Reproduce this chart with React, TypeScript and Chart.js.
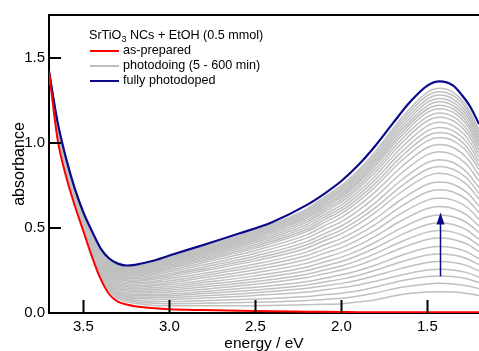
import React, { useEffect, useRef } from 'react';
import { Chart, registerables } from 'chart.js';

Chart.register(...registerables);

// ---------- data ----------
const energyFine = [3.7, 3.65, 3.6, 3.55, 3.5, 3.45, 3.4, 3.35, 3.3, 3.25, 3.2, 3.1, 3.0, 2.8, 2.6, 2.4, 2.2, 2.1, 2.0, 1.9, 1.8, 1.7, 1.6, 1.5, 1.43, 1.35, 1.3, 1.25, 1.2];
const asPrepared = [1.42, 1.02, 0.80, 0.63, 0.48, 0.33, 0.20, 0.11, 0.067, 0.05, 0.04, 0.029, 0.022, 0.017, 0.013, 0.010, 0.008, 0.007, 0.006, 0.005, 0.005, 0.004, 0.004, 0.004, 0.004, 0.004, 0.004, 0.004, 0.004];
const fullyPhotodoped = [1.42, 1.12, 0.905, 0.73, 0.59, 0.48, 0.38, 0.32, 0.29, 0.279, 0.283, 0.305, 0.338, 0.40, 0.465, 0.535, 0.635, 0.70, 0.775, 0.87, 0.985, 1.115, 1.24, 1.335, 1.36, 1.335, 1.28, 1.21, 1.11];

const energyGray = [3.7, 3.65, 3.6, 3.5, 3.45, 3.4, 3.35, 3.3, 3.2, 3.0, 2.8, 2.5, 2.2, 2.1, 2.0, 1.9, 1.8, 1.65, 1.5, 1.43, 1.35, 1.27, 1.2];
const photodoping: number[][] = [
  [1.42, 1.029, 0.809, 0.490, 0.343, 0.216, 0.129, 0.085, 0.057, 0.042, 0.042, 0.043, 0.048, 0.051, 0.055, 0.065, 0.078, 0.109, 0.123, 0.125, 0.123, 0.115, 0.103],
  [1.42, 1.033, 0.813, 0.494, 0.349, 0.223, 0.136, 0.094, 0.067, 0.055, 0.057, 0.063, 0.074, 0.080, 0.086, 0.100, 0.118, 0.151, 0.171, 0.174, 0.171, 0.160, 0.143],
  [1.42, 1.036, 0.817, 0.497, 0.354, 0.228, 0.143, 0.102, 0.076, 0.067, 0.072, 0.082, 0.097, 0.107, 0.116, 0.131, 0.153, 0.190, 0.214, 0.218, 0.214, 0.201, 0.179],
  [1.42, 1.039, 0.820, 0.501, 0.358, 0.234, 0.149, 0.109, 0.085, 0.081, 0.088, 0.103, 0.124, 0.136, 0.149, 0.165, 0.187, 0.223, 0.252, 0.257, 0.252, 0.237, 0.210],
  [1.42, 1.042, 0.823, 0.504, 0.363, 0.240, 0.156, 0.116, 0.093, 0.092, 0.101, 0.119, 0.145, 0.159, 0.174, 0.194, 0.220, 0.262, 0.297, 0.302, 0.297, 0.278, 0.247],
  [1.42, 1.045, 0.827, 0.508, 0.368, 0.246, 0.163, 0.123, 0.101, 0.102, 0.114, 0.135, 0.165, 0.182, 0.199, 0.222, 0.252, 0.301, 0.341, 0.347, 0.341, 0.319, 0.284],
  [1.42, 1.048, 0.830, 0.511, 0.373, 0.251, 0.170, 0.130, 0.109, 0.112, 0.126, 0.151, 0.185, 0.204, 0.224, 0.250, 0.282, 0.339, 0.383, 0.390, 0.383, 0.359, 0.319],
  [1.42, 1.052, 0.834, 0.515, 0.378, 0.258, 0.178, 0.139, 0.118, 0.124, 0.140, 0.169, 0.208, 0.230, 0.252, 0.281, 0.319, 0.382, 0.432, 0.440, 0.432, 0.405, 0.360],
  [1.42, 1.055, 0.837, 0.519, 0.383, 0.264, 0.184, 0.146, 0.126, 0.134, 0.153, 0.185, 0.228, 0.252, 0.276, 0.309, 0.350, 0.420, 0.475, 0.484, 0.475, 0.445, 0.396],
  [1.42, 1.059, 0.841, 0.523, 0.388, 0.270, 0.191, 0.153, 0.134, 0.145, 0.166, 0.201, 0.249, 0.276, 0.302, 0.339, 0.383, 0.460, 0.520, 0.530, 0.520, 0.487, 0.433],
  [1.42, 1.062, 0.844, 0.526, 0.393, 0.276, 0.199, 0.161, 0.143, 0.155, 0.179, 0.218, 0.270, 0.299, 0.328, 0.368, 0.417, 0.500, 0.565, 0.576, 0.565, 0.530, 0.471],
  [1.42, 1.066, 0.848, 0.530, 0.399, 0.282, 0.206, 0.169, 0.151, 0.167, 0.192, 0.236, 0.293, 0.324, 0.356, 0.399, 0.452, 0.543, 0.614, 0.625, 0.614, 0.575, 0.511],
  [1.42, 1.070, 0.852, 0.534, 0.404, 0.289, 0.214, 0.177, 0.160, 0.178, 0.207, 0.254, 0.316, 0.350, 0.384, 0.431, 0.487, 0.586, 0.663, 0.675, 0.663, 0.621, 0.551],
  [1.42, 1.073, 0.856, 0.538, 0.410, 0.296, 0.222, 0.185, 0.169, 0.190, 0.220, 0.271, 0.338, 0.375, 0.412, 0.462, 0.522, 0.628, 0.711, 0.724, 0.711, 0.666, 0.591],
  [1.42, 1.077, 0.859, 0.542, 0.415, 0.302, 0.229, 0.193, 0.177, 0.201, 0.233, 0.288, 0.359, 0.399, 0.438, 0.491, 0.556, 0.668, 0.756, 0.770, 0.756, 0.708, 0.629],
  [1.42, 1.080, 0.863, 0.546, 0.420, 0.308, 0.236, 0.201, 0.186, 0.212, 0.248, 0.306, 0.382, 0.424, 0.466, 0.523, 0.592, 0.712, 0.805, 0.820, 0.805, 0.754, 0.670],
  [1.42, 1.083, 0.866, 0.549, 0.425, 0.314, 0.243, 0.208, 0.193, 0.222, 0.259, 0.320, 0.401, 0.445, 0.488, 0.548, 0.620, 0.746, 0.844, 0.860, 0.844, 0.791, 0.702],
  [1.42, 1.086, 0.869, 0.553, 0.429, 0.319, 0.249, 0.214, 0.201, 0.231, 0.270, 0.335, 0.419, 0.465, 0.511, 0.573, 0.650, 0.781, 0.884, 0.900, 0.884, 0.827, 0.735],
  [1.42, 1.090, 0.873, 0.557, 0.434, 0.325, 0.256, 0.222, 0.209, 0.242, 0.283, 0.351, 0.441, 0.489, 0.537, 0.603, 0.683, 0.822, 0.930, 0.947, 0.930, 0.871, 0.773],
  [1.42, 1.093, 0.876, 0.560, 0.439, 0.331, 0.263, 0.229, 0.217, 0.252, 0.296, 0.367, 0.460, 0.511, 0.562, 0.630, 0.714, 0.859, 0.972, 0.990, 0.972, 0.910, 0.808],
  [1.42, 1.096, 0.879, 0.563, 0.444, 0.336, 0.269, 0.236, 0.224, 0.261, 0.307, 0.381, 0.479, 0.531, 0.584, 0.656, 0.743, 0.894, 1.011, 1.030, 1.011, 0.947, 0.841],
  [1.42, 1.098, 0.882, 0.566, 0.447, 0.340, 0.274, 0.241, 0.229, 0.268, 0.315, 0.392, 0.492, 0.547, 0.601, 0.675, 0.764, 0.920, 1.041, 1.060, 1.041, 0.974, 0.865],
  [1.42, 1.100, 0.884, 0.568, 0.450, 0.344, 0.278, 0.246, 0.235, 0.275, 0.324, 0.403, 0.506, 0.562, 0.618, 0.694, 0.786, 0.946, 1.070, 1.090, 1.070, 1.002, 0.890],
  [1.42, 1.102, 0.886, 0.571, 0.454, 0.348, 0.283, 0.251, 0.240, 0.282, 0.332, 0.414, 0.520, 0.577, 0.635, 0.713, 0.808, 0.972, 1.099, 1.120, 1.099, 1.030, 0.914],
  [1.42, 1.105, 0.889, 0.573, 0.457, 0.352, 0.288, 0.256, 0.245, 0.289, 0.341, 0.424, 0.534, 0.593, 0.652, 0.732, 0.829, 0.998, 1.129, 1.150, 1.129, 1.057, 0.939],
  [1.42, 1.106, 0.891, 0.575, 0.460, 0.355, 0.291, 0.260, 0.250, 0.295, 0.348, 0.433, 0.545, 0.606, 0.666, 0.748, 0.847, 1.020, 1.153, 1.175, 1.153, 1.080, 0.959],
  [1.42, 1.108, 0.893, 0.577, 0.462, 0.359, 0.295, 0.264, 0.254, 0.301, 0.355, 0.442, 0.557, 0.618, 0.680, 0.764, 0.865, 1.041, 1.178, 1.200, 1.178, 1.103, 0.980],
  [1.42, 1.110, 0.894, 0.579, 0.465, 0.361, 0.298, 0.267, 0.258, 0.305, 0.361, 0.450, 0.566, 0.629, 0.691, 0.776, 0.879, 1.059, 1.198, 1.220, 1.198, 1.121, 0.996],
  [1.42, 1.111, 0.896, 0.580, 0.467, 0.364, 0.301, 0.270, 0.262, 0.310, 0.366, 0.457, 0.575, 0.639, 0.702, 0.789, 0.894, 1.076, 1.217, 1.240, 1.217, 1.140, 1.012],
  [1.42, 1.113, 0.897, 0.582, 0.469, 0.367, 0.305, 0.274, 0.265, 0.315, 0.372, 0.464, 0.584, 0.649, 0.714, 0.802, 0.908, 1.093, 1.237, 1.260, 1.237, 1.158, 1.029],
  [1.42, 1.114, 0.899, 0.584, 0.471, 0.369, 0.308, 0.277, 0.269, 0.319, 0.377, 0.471, 0.593, 0.659, 0.725, 0.814, 0.922, 1.111, 1.256, 1.280, 1.256, 1.176, 1.045],
  [1.42, 1.116, 0.900, 0.585, 0.473, 0.372, 0.311, 0.280, 0.272, 0.324, 0.383, 0.478, 0.603, 0.669, 0.736, 0.827, 0.937, 1.128, 1.276, 1.300, 1.276, 1.195, 1.061],
  [1.42, 1.117, 0.902, 0.587, 0.476, 0.375, 0.314, 0.283, 0.276, 0.329, 0.389, 0.486, 0.612, 0.680, 0.748, 0.840, 0.952, 1.145, 1.296, 1.320, 1.296, 1.213, 1.077],
];

const xTicks = [3.5, 3.0, 2.5, 2.0, 1.5];
const yTicks = [0, 0.5, 1.0, 1.5];
const xRange = [1.2, 3.7];
const yRange = [0, 1.75];

const legendTitleMain = 'SrTiO';
const legendTitleSub = '3';
const legendTitleRest = ' NCs + EtOH (0.5 mmol)';
const legendLabels = ['as-prepared', 'photodoing (5 - 600 min)', 'fully photodoped'];

const arrowEnergy = 1.425;
const arrowFrom = 0.215;
const arrowTo = 0.59;

// ---------- styles ----------
const RED = '#ff0000';
const NAVY = '#0a0a8a';
const GRAY = '#c0c0c0';
const FONT = "'Liberation Sans', Arial, Helvetica, sans-serif";
const W = 479;
const H = 351;

const overlayPlugin = {
  id: 'overlay',
  afterDatasetsDraw(chart: any) {
    const { ctx, chartArea: a, scales } = chart;
    const x = scales.x;
    const y = scales.y;
    ctx.save();
    // top frame line + inward ticks
    ctx.strokeStyle = '#000';
    ctx.lineWidth = 2;
    ctx.beginPath();
    ctx.moveTo(a.left - 1, a.top);
    ctx.lineTo(a.right, a.top);
    ctx.stroke();
    ctx.beginPath();
    yTicks.forEach((v) => {
      const py = Math.round(y.getPixelForValue(v));
      ctx.moveTo(a.left, py);
      ctx.lineTo(a.left + 12, py);
    });
    xTicks.forEach((v) => {
      const px = Math.round(x.getPixelForValue(v)) + 0.5;
      ctx.moveTo(px, a.bottom);
      ctx.lineTo(px, a.bottom - 13);
    });
    ctx.stroke();

    // arrow
    const ax = Math.round(x.getPixelForValue(arrowEnergy)) + 0.5;
    const y0 = y.getPixelForValue(arrowFrom);
    const y1 = y.getPixelForValue(arrowTo);
    ctx.strokeStyle = NAVY;
    ctx.fillStyle = NAVY;
    ctx.lineWidth = 1.5;
    ctx.beginPath();
    ctx.moveTo(ax, y0);
    ctx.lineTo(ax, y1 + 10);
    ctx.stroke();
    ctx.beginPath();
    ctx.moveTo(ax, y1);
    ctx.lineTo(ax - 4, y1 + 12);
    ctx.lineTo(ax + 4, y1 + 12);
    ctx.closePath();
    ctx.fill();

    // legend
    const lx = a.left + 40;
    ctx.textBaseline = 'middle';
    ctx.fillStyle = '#000';
    ctx.font = `12.6px ${FONT}`;
    let tx = lx;
    const ty = 36;
    ctx.fillText(legendTitleMain, tx, ty);
    tx += ctx.measureText(legendTitleMain).width;
    ctx.font = `9px ${FONT}`;
    ctx.fillText(legendTitleSub, tx, ty + 4);
    tx += ctx.measureText(legendTitleSub).width;
    ctx.font = `12.6px ${FONT}`;
    ctx.fillText(legendTitleRest, tx, ty);

    const colors = [RED, GRAY, NAVY];
    legendLabels.forEach((lab, i) => {
      const ry = 51 + i * 15;
      ctx.strokeStyle = colors[i];
      ctx.lineWidth = 2;
      ctx.beginPath();
      ctx.moveTo(lx + 1, ry);
      ctx.lineTo(lx + 30, ry);
      ctx.stroke();
      ctx.fillStyle = '#000';
      ctx.fillText(lab, lx + 34, ry);
    });
    ctx.restore();
  },
};

export default function App() {
  const ref = useRef<HTMLCanvasElement | null>(null);

  useEffect(() => {
    document.body.style.margin = '0';
    document.documentElement.style.overflow = 'hidden';
    const canvas = ref.current;
    if (!canvas) return;

    const grayDatasets = photodoping.map((row, k) => ({
      label: k === 0 ? legendLabels[1] : `photodoping ${k + 1}`,
      data: energyGray.map((e, i) => ({ x: e, y: row[i] })),
      borderColor: GRAY,
      borderWidth: 1.5,
      pointRadius: 0,
      fill: false,
      cubicInterpolationMode: 'monotone' as const,
    }));

    const chart = new Chart(canvas, {
      type: 'line',
      data: {
        datasets: [
          {
            label: legendLabels[0],
            data: energyFine.map((e, i) => ({ x: e, y: asPrepared[i] })),
            borderColor: RED,
            borderWidth: 2,
            pointRadius: 0,
            fill: false,
            cubicInterpolationMode: 'monotone',
          },
          {
            label: legendLabels[2],
            data: energyFine.map((e, i) => ({ x: e, y: fullyPhotodoped[i] })),
            borderColor: NAVY,
            borderWidth: 2.2,
            pointRadius: 0,
            fill: false,
            cubicInterpolationMode: 'monotone',
          },
          ...grayDatasets,
        ],
      },
      options: {
        animation: false,
        responsive: false,
        maintainAspectRatio: false,
        layout: { padding: { top: 15, right: 0, left: 0, bottom: 0 } },
        plugins: { legend: { display: false }, tooltip: { enabled: false } },
        elements: { point: { radius: 0 } },
        scales: {
          x: {
            type: 'linear',
            reverse: true,
            min: xRange[0],
            max: xRange[1],
            afterBuildTicks: (s: any) => {
              s.ticks = xTicks.map((v) => ({ value: v }));
            },
            afterFit: (s: any) => {
              s.height = 38;
            },
            grid: { display: false, drawTicks: false },
            border: { display: true, color: '#000', width: 2 },
            ticks: {
              color: '#000',
              font: { family: FONT, size: 15 },
              padding: 5,
              autoSkip: false,
              maxRotation: 0,
              callback: (v: any) => Number(v).toFixed(1),
            },
            title: {
              display: true,
              text: 'energy / eV',
              color: '#000',
              font: { family: FONT, size: 15.5 },
              padding: { top: 0, bottom: -2 },
            },
          },
          y: {
            type: 'linear',
            min: yRange[0],
            max: yRange[1],
            afterBuildTicks: (s: any) => {
              s.ticks = yTicks.map((v) => ({ value: v }));
            },
            afterFit: (s: any) => {
              s.width = 49;
            },
            grid: { display: false, drawTicks: false },
            border: { display: true, color: '#000', width: 2 },
            ticks: {
              color: '#000',
              font: { family: FONT, size: 15 },
              padding: 4,
              autoSkip: false,
              callback: (v: any) => Number(v).toFixed(1),
            },
            title: {
              display: true,
              text: 'absorbance',
              color: '#000',
              font: { family: FONT, size: 16 },
              padding: { top: 10, bottom: 0 },
            },
          },
        },
      },
      plugins: [overlayPlugin],
    });

    return () => chart.destroy();
  }, []);

  return <canvas ref={ref} width={W} height={H} style={{ display: 'block', width: W, height: H }} />;
}
